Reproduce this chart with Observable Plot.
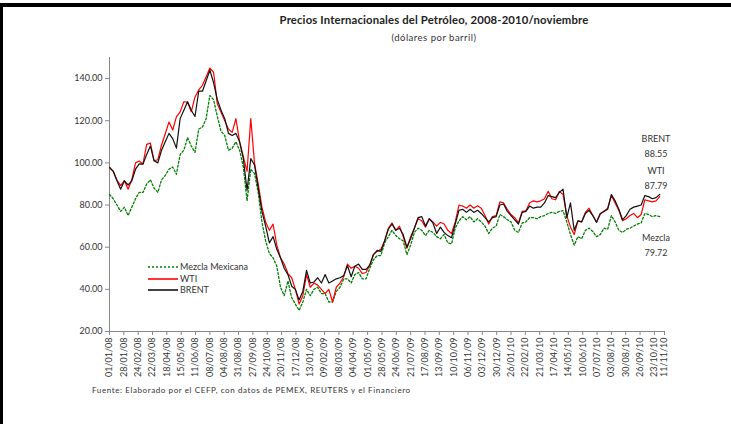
<!DOCTYPE html>
<html><head><meta charset="utf-8">
<script src="https://cdn.jsdelivr.net/npm/d3@7"></script>
<script src="https://cdn.jsdelivr.net/npm/@observablehq/plot@0.6"></script>
<style>
body{margin:0;background:#fff;}
#wrap{position:relative;width:731px;height:424px;overflow:hidden;font-family:Lato,"Open Sans",sans-serif;color:#333;background:#fff;}
#wrap svg.plot{position:absolute;left:0;top:0;}
.abs{position:absolute;white-space:nowrap;}
.c{text-align:center;}
</style></head><body>
<div id="wrap">
  <div id="chart"></div>
  <div class="abs" style="left:0;top:3px;width:731px;height:4px;background:#000"></div>
  <div class="abs" style="left:0;top:3px;width:3px;height:421px;background:#000"></div>
  <div class="abs c" id="title" style="left:134px;top:13px;width:600px;font-size:11.3px;letter-spacing:0.15px;font-weight:bold;color:#222"></div>
  <div class="abs c" id="subtitle" style="left:334px;top:32px;width:200px;font-size:9.5px;letter-spacing:0.5px;color:#333"></div>
  <div class="abs" id="legend" style="left:146px;top:261px;font-size:9px;color:#333"></div>
  <div class="abs c" id="endlabels" style="left:616px;top:131px;width:80px;font-size:9px;color:#333"></div>
  <div class="abs" id="source" style="left:92px;top:385px;font-size:8px;letter-spacing:0.6px;color:#333"></div>
</div>
<script>
const titulo = "Precios Internacionales del Petróleo, 2008-2010/noviembre";
const subtitulo = "(dólares por barril)";
const fuente = "Fuente: Elaborado por el CEFP, con datos de PEMEX, REUTERS y el Financiero";
const series = ["Mezcla Mexicana", "WTI", "BRENT"];
const colores = ["#008000", "#ff0000", "#111111"];
const etiquetasFinales = ["BRENT", "88.55", "WTI", "87.79", "Mezcla", "79.72"];

const yTicks = [20, 40, 60, 80, 100, 120, 140];
const xTickLabels = ["01/01/08","28/01/08","24/02/08","22/03/08","18/04/08","15/05/08","11/06/08","08/07/08","04/08/08","31/08/08","27/09/08","24/10/08","20/11/08","17/12/08","13/01/09","09/02/09","08/03/09","04/04/09","01/05/09","28/05/09","24/06/09","21/07/09","17/08/09","13/09/09","10/10/09","06/11/09","03/12/09","30/12/09","26/01/10","22/02/10","21/03/10","17/04/10","14/05/10","10/06/10","07/07/10","03/08/10","30/08/10","26/09/10","23/10/10","11/11/10"];

const fechas = [
"2008-01-01","2008-01-08","2008-01-15","2008-01-22","2008-01-29","2008-02-05","2008-02-12","2008-02-19","2008-02-26","2008-03-04","2008-03-11","2008-03-18","2008-03-25","2008-04-01","2008-04-08","2008-04-15","2008-04-22","2008-04-29","2008-05-06","2008-05-13","2008-05-20","2008-05-27","2008-06-03","2008-06-10","2008-06-17","2008-06-24","2008-07-01","2008-07-08","2008-07-15","2008-07-22","2008-07-29","2008-08-05","2008-08-12","2008-08-19","2008-08-26","2008-09-02","2008-09-09","2008-09-16","2008-09-23","2008-09-30","2008-10-07","2008-10-14","2008-10-21","2008-10-28","2008-11-04","2008-11-11","2008-11-18","2008-11-25","2008-12-02","2008-12-09","2008-12-16","2008-12-23","2008-12-30",
"2009-01-06","2009-01-13","2009-01-20","2009-01-27","2009-02-03","2009-02-10","2009-02-17","2009-02-24","2009-03-03","2009-03-10","2009-03-17","2009-03-24","2009-03-31","2009-04-07","2009-04-14","2009-04-21","2009-04-28","2009-05-05","2009-05-12","2009-05-19","2009-05-26","2009-06-02","2009-06-09","2009-06-16","2009-06-23","2009-06-30","2009-07-07","2009-07-14","2009-07-21","2009-07-28","2009-08-04","2009-08-11","2009-08-18","2009-08-25","2009-09-01","2009-09-08","2009-09-15","2009-09-22","2009-09-29","2009-10-06","2009-10-13","2009-10-20","2009-10-27","2009-11-03","2009-11-10","2009-11-17","2009-11-24","2009-12-01","2009-12-08","2009-12-15","2009-12-22","2009-12-29",
"2010-01-05","2010-01-12","2010-01-19","2010-01-26","2010-02-02","2010-02-09","2010-02-16","2010-02-23","2010-03-02","2010-03-09","2010-03-16","2010-03-23","2010-03-30","2010-04-06","2010-04-13","2010-04-20","2010-04-27","2010-05-04","2010-05-11","2010-05-18","2010-05-25","2010-06-01","2010-06-08","2010-06-15","2010-06-22","2010-06-29","2010-07-06","2010-07-13","2010-07-20","2010-07-27","2010-08-03","2010-08-10","2010-08-17","2010-08-24","2010-08-31","2010-09-07","2010-09-14","2010-09-21","2010-09-28","2010-10-05","2010-10-12","2010-10-19","2010-10-26","2010-11-02"];

const wti = [97.5,96,91.9,89.2,91.6,87.5,92,100,100.9,99.5,108.8,109.4,101,101.5,108.5,113.8,119.4,115.6,121.8,124.2,129,128.8,124.3,131.3,134.6,136.8,140.9,145,143,128,124,120,116,114.5,121,110,103,96,121,100,90,79,72,68,71,61,55,52,47.5,45.5,40,33,37,
47,41,43,42,40,38,40,34,41,43,46,52,50,51,50,47.5,48,51.5,56.5,58,59,63,69,71.5,68,70,65,59.5,65,69,73.5,72.5,69.5,73.5,72,70,71.8,71,68,66.5,72,80,79.5,78.5,80,78.5,79.7,78.5,75,71,74.5,75,
81.5,81,78,75.5,74,71.5,77,77.3,81,82,81.5,82,83,86.5,83,82.5,86.5,85,75,69.5,66,72.5,72,76.5,78.5,75,71.8,76,77,78.5,84.5,81,77.5,72.5,73.5,75,76,74,75.5,82.5,82,81.5,82,84];

const brent = [98,96,91.5,87.5,91.5,89.5,91.5,97,99.5,99.4,104,108,101,100,106,110,114,111.5,107,121,125,129,125,122,134,134,139,144,138,130,125,121,114,113,114,110,102,87,102,99,88,77,70,62,65,59,55,50,47,41.5,40,35,39,
49,43,43.5,45.5,43,47,43,44,45,45.5,46.5,51.3,46,51,52,49.5,49.5,51.5,56.5,58.5,58,63,68.5,71,68,69,66,60,64,69,74,74.5,70,73.5,71.5,66.5,69.5,67,65.5,64.5,71,77.5,78,76.5,78,76.5,77.5,76,74,72,74,74.5,
80,80.5,77,75,73,71,76.5,77,79.5,78.5,79,79,81,84.5,84,83.5,86,87.5,74,81,68,72.5,72,76,77.5,75,71.8,75.7,77,78,85,82,78,73,75,78,79,79.5,80,84.5,84,83,83.5,85];

const mezcla = [85,83,80,77,79,75,79,83,86,86,90,92,88,86,92,94,97,98,94.6,104,106,112,108,105,116,117,121,132,130,122,115,113,106,107,110,106,98,82,97,95,86,72,63,57,55,51,41,37,44,36,33,30,34,
40,37,40,41,38,38,34,34,39,41,45,45,43,47,48,45,45,50,54,56,56,62,65,68,65.5,64,63,56.5,61,67,69,68,65.5,68,67,65,64,66,62,61.6,69,72.5,74.5,73,74.5,72,73.5,72,70,66.5,69,70,
75.5,74.5,73,72,68,67,71.5,72,74,74,73.5,74.5,75,76,76.5,76,77,77.3,72,66,61,65,64,68,69,67.5,65,66,69,68.5,75,72,68,67,68.5,69,70,71,71.5,76,75.5,74.5,75,74.5];

const parseISO = d3.utcParse("%Y-%m-%d");
const parseLbl = d3.utcParse("%d/%m/%y");
const fmtLbl = d3.utcFormat("%d/%m/%y");
const datos = fechas.map((f, i) => ({fecha: parseISO(f), wti: wti[i], brent: brent[i], mezcla: mezcla[i]}));
const xTicks = xTickLabels.map(parseLbl);

const chart = Plot.plot({
  width: 731, height: 424,
  marginLeft: 109, marginRight: 67, marginTop: 57, marginBottom: 93,
  style: {fontFamily: "Lato, 'Open Sans', sans-serif", fontSize: "9px", color: "#333", background: "transparent"},
  x: {type: "utc", domain: [xTicks[0], xTicks[xTicks.length - 1]], axis: null, label: null},
  y: {domain: [20, 150], axis: null, label: null},
  marks: [
    Plot.ruleX([xTicks[0]], {stroke: "#888", strokeWidth: 1}),
    Plot.ruleY([20], {stroke: "#888", strokeWidth: 1}),
    Plot.axisY({ticks: yTicks, tickFormat: d => d.toFixed(2), tickSize: 4, tickPadding: 3, stroke: "#888", fill: "#333", label: null}),
    Plot.axisX({ticks: xTicks, tickFormat: fmtLbl, tickRotate: -90, tickSize: 4, tickPadding: 2, stroke: "#888", fill: "#333", label: null}),
    Plot.lineY(datos, {x: "fecha", y: "mezcla", stroke: colores[0], strokeWidth: 1.3, strokeDasharray: "2,2"}),
    Plot.lineY(datos, {x: "fecha", y: "wti", stroke: colores[1], strokeWidth: 1.2}),
    Plot.lineY(datos, {x: "fecha", y: "brent", stroke: colores[2], strokeWidth: 1.2})
  ]
});
document.getElementById("chart").appendChild(chart);

document.getElementById("title").textContent = titulo;
document.getElementById("subtitle").textContent = subtitulo;
document.getElementById("source").textContent = fuente;

const leg = document.getElementById("legend");
const dashes = ["2,2", null, null];
leg.innerHTML = series.map((s, i) =>
  `<div style="height:11px;line-height:11px;display:flex;align-items:center;${i===0?'margin-bottom:1px;':''}">
     <svg width="34" height="11" style="flex:none"><line x1="2" x2="32" y1="6" y2="6" stroke="${colores[i]}" stroke-width="${i===0?1.4:1.6}" ${dashes[i]?`stroke-dasharray="${dashes[i]}"`:''}/></svg>
     <span>${s}</span></div>`).join("");

const el = document.getElementById("endlabels");
const gaps = [0, 0, 2, 0, 37, 0];
el.innerHTML = etiquetasFinales.map((t, i) => `<div style="height:15px;line-height:15px;margin-top:${gaps[i]}px">${t}</div>`).join("");
</script>
</body></html>
